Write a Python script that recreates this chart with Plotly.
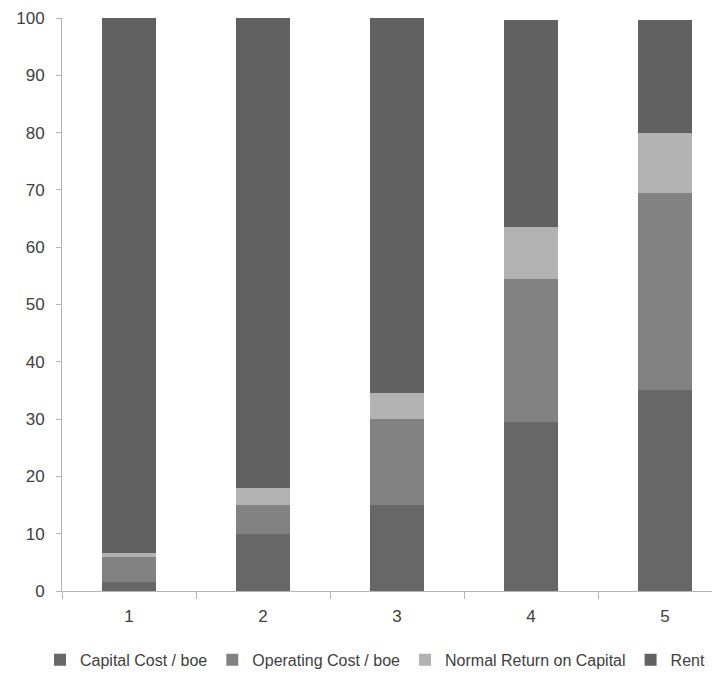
import plotly.graph_objects as go

categories = ["1", "2", "3", "4", "5"]
capital_cost = [1.5, 10, 15, 29.5, 35]
operating_cost = [4.5, 5, 15, 25, 34.5]
normal_return = [0.7, 3, 4.5, 9, 10.5]
rent = [93.3, 82, 65.5, 36.2, 19.7]

series = [
    ("Capital Cost / boe", capital_cost, "#676767"),
    ("Operating Cost / boe", operating_cost, "#828282"),
    ("Normal Return on Capital", normal_return, "#b2b2b2"),
    ("Rent", rent, "#616161"),
]

fig = go.Figure()
for name, vals, col in series:
    fig.add_trace(go.Bar(
        x=categories, y=vals, name=name,
        marker=dict(color=col, line=dict(width=0)),
        width=0.4,
    ))

fig.update_layout(
    barmode="stack",
    width=720, height=675,
    margin=dict(l=54, r=0, t=10, b=92),
    plot_bgcolor="white", paper_bgcolor="white",
    font=dict(family="Liberation Sans, Arial, sans-serif", size=17, color="#404040"),
    showlegend=True,
    legend=dict(orientation="h", x=0.47, xanchor="center", y=-0.12, yanchor="middle",
                font=dict(size=16), traceorder="normal", itemwidth=30,
                tracegroupgap=0),
    xaxis=dict(type="category", range=[-0.5, 4.47], showline=True, linecolor="#b5b5b5",
               ticks="outside", tickson="boundaries", ticklen=7, tickcolor="#b5b5b5",
               showgrid=False, ticklabelstandoff=10),
    yaxis=dict(range=[0, 100], dtick=10, showline=True, linecolor="#b5b5b5",
               ticks="outside", ticklen=5, tickcolor="#b5b5b5", showgrid=False,
               zeroline=False, ticklabelstandoff=8),
)

fig.write_html("out.html")
